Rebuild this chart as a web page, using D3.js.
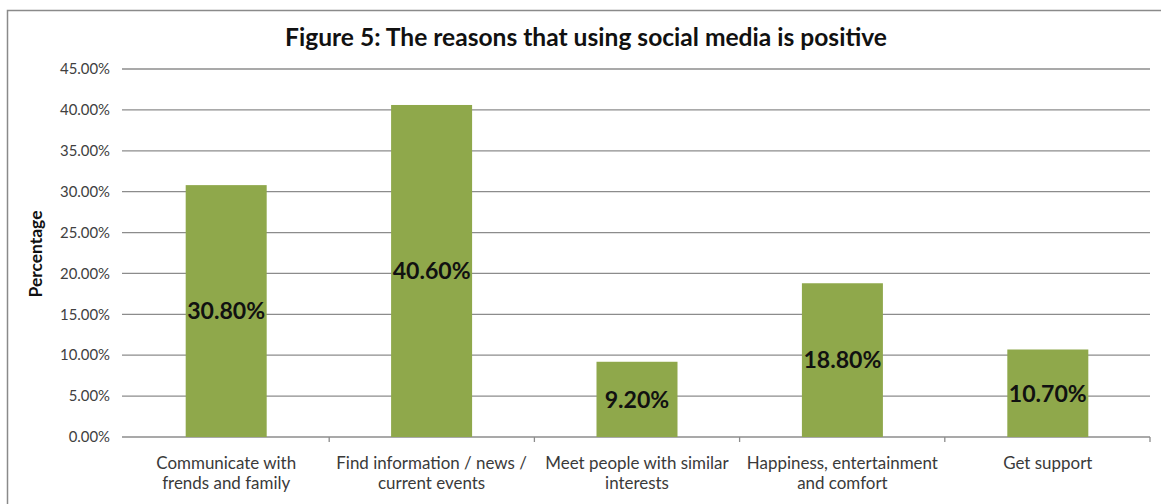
<!DOCTYPE html>
<html><head><meta charset="utf-8">
<script src="https://cdn.jsdelivr.net/npm/d3@7"></script>
<style>body{margin:0;background:#fff}</style>
</head><body>
<svg id="c" width="1161" height="504"></svg>
<script>
const categories = [
  ["Communicate with", "frends and family"],
  ["Find information / news /", "current events"],
  ["Meet people with similar", "interests"],
  ["Happiness, entertainment", "and comfort"],
  ["Get support"]
];
const values = [30.8, 40.6, 9.2, 18.8, 10.7];
const valueLabels = ["30.80%", "40.60%", "9.20%", "18.80%", "10.70%"];
const yTicks = [0, 5, 10, 15, 20, 25, 30, 35, 40, 45];
const title = "Figure 5: The reasons that using social media is positive";
const yTitle = "Percentage";

(function () {
const svg = d3.select("#c");
const font = "Lato,'Open Sans',sans-serif";
const pL = 124, pR = 1150, pT = 69, pB = 437;

// size a font so that a given text sample reaches a target width
function fitSize(sample, weight, target, base) {
  const t = svg.append("text").attr("font-family", font).attr("font-weight", weight)
    .attr("font-size", base).text(sample);
  const w = t.node().getComputedTextLength();
  t.remove();
  return base * target / w;
}

// outer frame
svg.append("path").attr("d", "M7.5,504 L7.5,10.5 L1161,10.5")
  .attr("fill", "none").attr("stroke", "#8a8a8a").attr("stroke-width", 1.5);

const x = d3.scaleBand().domain(d3.range(values.length)).range([pL, pR]).paddingInner(0.605).paddingOuter(0.3);
const y = d3.scaleLinear().domain([0, 45]).range([pB, pT]);

// gridlines
svg.append("g").selectAll("line").data(yTicks).join("line")
  .attr("x1", pL - 2).attr("x2", pR)
  .attr("y1", d => y(d)).attr("y2", d => y(d))
  .attr("stroke", "#8c8c8c").attr("stroke-width", 1.3);

// y tick labels
const tickSize = fitSize("45.00%", "normal", 50, 13);
svg.append("g").selectAll("text").data(yTicks).join("text")
  .attr("x", 110).attr("y", d => y(d)).attr("dy", "0.35em")
  .attr("text-anchor", "end").attr("font-family", font).attr("font-size", tickSize)
  .attr("fill", "#404040").text(d => d.toFixed(2) + "%");

// bars
const step = (pR - pL) / values.length;
const xc = i => x(i) + x.bandwidth() / 2;
svg.append("g").selectAll("rect").data(values).join("rect")
  .attr("x", (d, i) => xc(i) - 40.5).attr("width", 81)
  .attr("y", d => y(d)).attr("height", d => y(0) - y(d))
  .attr("fill", "#8fa84b");

// category tick marks (between categories and at right end)
svg.append("g").selectAll("line").data(d3.range(1, values.length + 1)).join("line")
  .attr("x1", i => pL + step * i).attr("x2", i => pL + step * i)
  .attr("y1", pB).attr("y2", pB + 5)
  .attr("stroke", "#8c8c8c").attr("stroke-width", 1.3);

// value labels
const valSize = fitSize("30.80%", "bold", 78, 20);
svg.append("g").selectAll("text").data(values).join("text")
  .attr("x", (d, i) => xc(i)).attr("y", d => (y(d) + y(0)) / 2).attr("dy", "0.36em")
  .attr("text-anchor", "middle").attr("font-family", font).attr("font-weight", "bold")
  .attr("font-size", valSize).attr("fill", "#111").text((d, i) => valueLabels[i]);

// category labels
const catSize = fitSize("Communicate with", "normal", 140, 14);
const cg = svg.append("g").selectAll("text").data(categories).join("text")
  .attr("x", (d, i) => xc(i)).attr("y", 469)
  .attr("text-anchor", "middle").attr("font-family", font).attr("font-size", catSize).attr("fill", "#3a3a3a");
cg.selectAll("tspan").data(d => d).join("tspan")
  .attr("x", function () { return this.parentNode.getAttribute("x"); })
  .attr("dy", (d, i) => i === 0 ? 0 : 20).text(d => d);

// title
const titleSize = fitSize(title, "bold", 602, 22);
svg.append("text").attr("x", 586).attr("y", 46).attr("text-anchor", "middle")
  .attr("font-family", font).attr("font-weight", "bold").attr("font-size", titleSize)
  .attr("fill", "#111").text(title);

// y title
const ySize = fitSize(yTitle, "bold", 87, 12);
svg.append("text").attr("transform", "translate(42,254) rotate(-90)")
  .attr("text-anchor", "middle").attr("font-family", font).attr("font-weight", "bold")
  .attr("font-size", ySize).attr("fill", "#111").text(yTitle);
})();
</script>
</body></html>
